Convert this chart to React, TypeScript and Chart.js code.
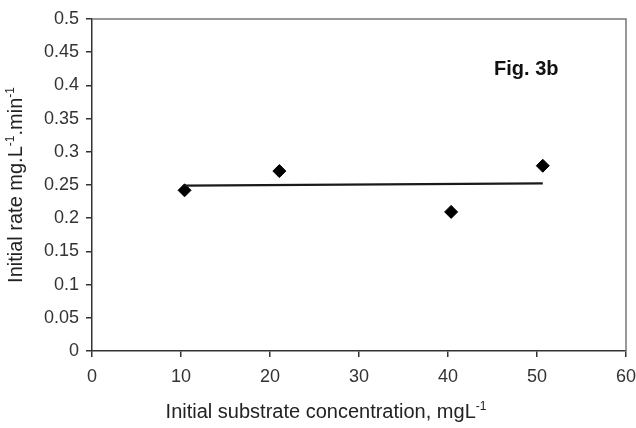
import React, { useEffect, useRef } from "react";
import { Chart, registerables } from "chart.js";

Chart.register(...registerables);

// Data
const substrateConc = [10.4, 21.05, 40.35, 50.65];
const initialRate = [0.242, 0.271, 0.2095, 0.279];
// Linear trend line drawn between the first and last concentration
const trendX = [10.4, 50.65];
const trendY = [0.249, 0.2525];

const xTickValues = [0, 10, 20, 30, 40, 50, 60];
const yTickValues = [0, 0.05, 0.1, 0.15, 0.2, 0.25, 0.3, 0.35, 0.4, 0.45, 0.5];

const figLabel = "Fig. 3b";
const figLabelPos = { x: 48.8, y: 0.4246 };

// Axis titles as [text, superscript?] runs
const xTitleRuns: [string, boolean][] = [
  ["Initial substrate concentration, mgL", false],
  ["-1", true],
];
const yTitleRuns: [string, boolean][] = [
  ["Initial rate mg.L", false],
  ["-1", true],
  [".min", false],
  ["-1", true],
];

const FONT = "'Liberation Sans', Arial, sans-serif";
const TITLE_SIZE = 20;
const SUP_SIZE = 12;

function drawRuns(ctx: CanvasRenderingContext2D, runs: [string, boolean][], cx: number, baseline: number) {
  let total = 0;
  const widths = runs.map(([t, sup]) => {
    ctx.font = `${sup ? SUP_SIZE : TITLE_SIZE}px ${FONT}`;
    const w = ctx.measureText(t).width;
    total += w;
    return w;
  });
  let x = cx - total / 2;
  runs.forEach(([t, sup], i) => {
    ctx.font = `${sup ? SUP_SIZE : TITLE_SIZE}px ${FONT}`;
    ctx.fillText(t, x, sup ? baseline - 8 : baseline);
    x += widths[i];
  });
}

const framePlugin = {
  id: "frameAndLabel",
  afterDatasetsDraw(chart: any) {
    const { ctx, chartArea, scales } = chart;
    ctx.save();
    ctx.strokeStyle = "#777";
    ctx.lineWidth = 1.5;
    ctx.beginPath();
    ctx.moveTo(chartArea.left, chartArea.top);
    ctx.lineTo(chartArea.right, chartArea.top);
    ctx.lineTo(chartArea.right, chartArea.bottom);
    ctx.stroke();

    ctx.fillStyle = "#111";
    ctx.font = `bold 20px ${FONT}`;
    ctx.textAlign = "center";
    ctx.textBaseline = "middle";
    ctx.fillText(
      figLabel,
      scales.x.getPixelForValue(figLabelPos.x),
      scales.y.getPixelForValue(figLabelPos.y)
    );

    // axis titles
    ctx.fillStyle = "#222";
    ctx.textAlign = "left";
    ctx.textBaseline = "alphabetic";
    const xCenter = (chartArea.left + chartArea.right) / 2 - 33;
    drawRuns(ctx, xTitleRuns, xCenter, chart.height - 10);

    ctx.save();
    ctx.translate(22, (chartArea.top + chartArea.bottom) / 2);
    ctx.rotate(-Math.PI / 2);
    drawRuns(ctx, yTitleRuns, 0, 0);
    ctx.restore();

    ctx.restore();
  },
};

export default function App() {
  const canvasRef = useRef<HTMLCanvasElement | null>(null);

  useEffect(() => {
    document.body.style.margin = "0";
    const canvas = canvasRef.current;
    if (!canvas) return;
    const chart = new Chart(canvas, {
      type: "scatter",
      data: {
        datasets: [
          {
            type: "line",
            data: trendX.map((x, i) => ({ x, y: trendY[i] })),
            borderColor: "#1a1a1a",
            borderWidth: 2.4,
            pointRadius: 0,
            fill: false,
          } as any,
          {
            data: substrateConc.map((x, i) => ({ x, y: initialRate[i] })),
            pointStyle: "rectRot",
            pointRadius: 6.5,
            backgroundColor: "#000",
            borderColor: "#000",
            borderWidth: 1,
          },
        ],
      },
      options: {
        responsive: false,
        animation: false,
        devicePixelRatio: 1,
        layout: { padding: { top: 19, right: 10, left: 0, bottom: 0 } },
        plugins: {
          legend: { display: false },
          tooltip: { enabled: false },
        },
        scales: {
          x: {
            type: "linear",
            min: 0,
            max: 60,
            afterFit: (s: any) => {
              s.height = 77;
              s.paddingLeft = 0;
              s.paddingRight = 0;
            },
            afterBuildTicks: (s: any) => {
              s.ticks = xTickValues.map((v) => ({ value: v }));
            },
            ticks: {
              color: "#333",
              font: { family: FONT, size: 18 },
              padding: 9,
              maxRotation: 0,
              callback: (v: any) => String(v),
            },
            grid: {
              drawOnChartArea: false,
              drawTicks: true,
              tickLength: 6,
              color: "#333",
              lineWidth: 1.5,
            },
            border: { display: true, color: "#333", width: 1.5 },
            title: { display: false },
          },
          y: {
            type: "linear",
            min: 0,
            max: 0.5,
            afterFit: (s: any) => {
              s.width = 92;
              s.paddingTop = 0;
              s.paddingBottom = 0;
            },
            afterBuildTicks: (s: any) => {
              s.ticks = yTickValues.map((v) => ({ value: v }));
            },
            ticks: {
              color: "#333",
              font: { family: FONT, size: 18 },
              padding: 7,
              callback: (v: any) => String(Number(Number(v).toFixed(2))),
            },
            grid: {
              drawOnChartArea: false,
              drawTicks: true,
              tickLength: 6,
              color: "#333",
              lineWidth: 1.5,
            },
            border: { display: true, color: "#333", width: 1.5 },
            title: { display: false },
          },
        },
      },
      plugins: [framePlugin],
    } as any);
    return () => chart.destroy();
  }, []);

  return (
    <div style={{ width: 636, height: 428, background: "#fff" }}>
      <canvas ref={canvasRef} width={636} height={428} />
    </div>
  );
}
